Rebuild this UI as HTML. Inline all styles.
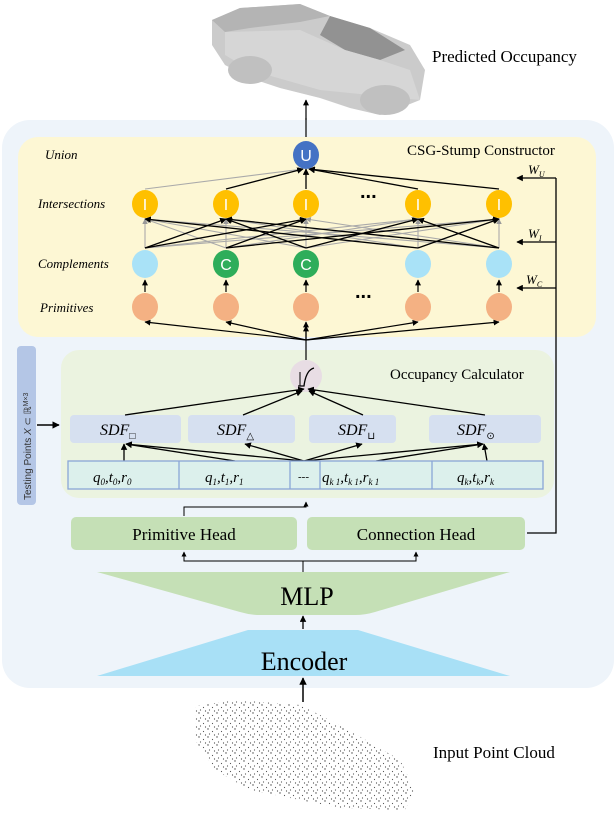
<!DOCTYPE html>
<html><head><meta charset="utf-8"><style>
html,body{margin:0;padding:0;background:#fff;}
svg{display:block;font-family:"Liberation Serif",serif;}
</style></head><body>
<svg width="616" height="814" viewBox="0 0 616 814" xmlns="http://www.w3.org/2000/svg">
<defs>
<marker id="a" viewBox="0 0 10 10" refX="9" refY="5" markerWidth="5" markerHeight="5" orient="auto"><path d="M0,0L10,5L0,10z" fill="#000"/></marker>
<marker id="g" viewBox="0 0 10 10" refX="9" refY="5" markerWidth="5" markerHeight="5" orient="auto"><path d="M0,0L10,5L0,10z" fill="#999"/></marker>
<pattern id="p1" width="9" height="8" patternUnits="userSpaceOnUse"><circle cx="1" cy="1" r="0.7" fill="#444"/><circle cx="5.5" cy="3.5" r="0.6" fill="#555"/><circle cx="2.5" cy="6" r="0.6" fill="#555"/><circle cx="7.5" cy="7" r="0.6" fill="#444"/></pattern>
</defs>
<g>
<path d="M212,20 L240,8 L300,4 L330,16 L370,28 L410,45 L425,70 L420,100 L400,108 L380,115 L350,108 L320,98 L280,88 L250,78 L225,65 L212,45 Z" fill="#cbcbcb"/>
<path d="M212,20 L240,8 L300,4 L330,16 L300,22 L250,28 L225,32 Z" fill="#b4b4b4"/>
<path d="M330,16 L370,28 L405,50 L380,60 L345,50 L320,35 Z" fill="#929292"/>
<path d="M225,32 L300,30 L345,50 L380,60 L410,70 L420,100 L320,90 L250,70 L225,55Z" fill="#d6d6d6"/>
<ellipse cx="250" cy="70" rx="22" ry="14" fill="#c0c0c0"/>
<ellipse cx="385" cy="100" rx="25" ry="15" fill="#c0c0c0"/>
</g>
<text x="432" y="62" font-size="17">Predicted Occupancy</text>
<line x1="306" y1="120" x2="306" y2="100" stroke="#000" stroke-width="1.2" marker-end="url(#a)"/>
<rect x="2" y="120" width="612" height="568" rx="28" fill="#eef4fa"/>
<line x1="306" y1="118" x2="306" y2="140" stroke="#000" stroke-width="1.2"/>
<rect x="18" y="137" width="578" height="200" rx="20" fill="#fdf7d4"/>
<text x="407" y="155" font-size="15">CSG-Stump Constructor</text>
<g font-style="italic" font-size="13">
<text x="45" y="159">Union</text>
<text x="38" y="208">Intersections</text>
<text x="38" y="268">Complements</text>
<text x="40" y="312">Primitives</text>
</g>
<g stroke="#000" stroke-width="1.2">
<line x1="306" y1="340" x2="145" y2="322" marker-end="url(#a)"/>
<line x1="306" y1="340" x2="226" y2="322" marker-end="url(#a)"/>
<line x1="306" y1="340" x2="306" y2="322" marker-end="url(#a)"/>
<line x1="306" y1="340" x2="418" y2="322" marker-end="url(#a)"/>
<line x1="306" y1="340" x2="499" y2="322" marker-end="url(#a)"/>
<line x1="145" y1="292" x2="145" y2="280" marker-end="url(#a)"/>
<line x1="226" y1="292" x2="226" y2="280" marker-end="url(#a)"/>
<line x1="306" y1="292" x2="306" y2="280" marker-end="url(#a)"/>
<line x1="418" y1="292" x2="418" y2="280" marker-end="url(#a)"/>
<line x1="499" y1="292" x2="499" y2="280" marker-end="url(#a)"/>
</g>
<g stroke="#aaa" stroke-width="1.1">
<line x1="145" y1="248" x2="145" y2="219" marker-end="url(#g)"/>
<line x1="145" y1="248" x2="418" y2="219" marker-end="url(#g)"/>
<line x1="145" y1="248" x2="499" y2="219" marker-end="url(#g)"/>
<line x1="226" y1="248" x2="145" y2="219" marker-end="url(#g)"/>
<line x1="226" y1="248" x2="226" y2="219" marker-end="url(#g)"/>
<line x1="226" y1="248" x2="418" y2="219" marker-end="url(#g)"/>
<line x1="306" y1="248" x2="145" y2="219" marker-end="url(#g)"/>
<line x1="306" y1="248" x2="306" y2="219" marker-end="url(#g)"/>
<line x1="306" y1="248" x2="499" y2="219" marker-end="url(#g)"/>
<line x1="418" y1="248" x2="226" y2="219" marker-end="url(#g)"/>
<line x1="418" y1="248" x2="418" y2="219" marker-end="url(#g)"/>
<line x1="499" y1="248" x2="145" y2="219" marker-end="url(#g)"/>
<line x1="499" y1="248" x2="306" y2="219" marker-end="url(#g)"/>
<line x1="499" y1="248" x2="499" y2="219" marker-end="url(#g)"/>
<line x1="145" y1="189" x2="303" y2="169" marker-end="url(#g)"/>
</g>
<g stroke="#000" stroke-width="1.3">
<line x1="145" y1="248" x2="226" y2="219" marker-end="url(#a)"/>
<line x1="145" y1="248" x2="306" y2="219" marker-end="url(#a)"/>
<line x1="226" y1="248" x2="306" y2="219" marker-end="url(#a)"/>
<line x1="226" y1="248" x2="499" y2="219" marker-end="url(#a)"/>
<line x1="306" y1="248" x2="418" y2="219" marker-end="url(#a)"/>
<line x1="306" y1="248" x2="226" y2="219" marker-end="url(#a)"/>
<line x1="418" y1="248" x2="499" y2="219" marker-end="url(#a)"/>
<line x1="418" y1="248" x2="145" y2="219" marker-end="url(#a)"/>
<line x1="499" y1="248" x2="226" y2="219" marker-end="url(#a)"/>
<line x1="499" y1="248" x2="418" y2="219" marker-end="url(#a)"/>
<line x1="226" y1="189" x2="303" y2="169" marker-end="url(#a)"/>
<line x1="306" y1="189" x2="306" y2="169" marker-end="url(#a)"/>
<line x1="418" y1="189" x2="309" y2="169" marker-end="url(#a)"/>
<line x1="499" y1="189" x2="309" y2="169" marker-end="url(#a)"/>
</g>
<g stroke="#000" stroke-width="1.3" fill="none">
<polyline points="556,178 556,533 527,533"/>
<line x1="556" y1="178" x2="517" y2="178" marker-end="url(#a)"/>
<line x1="556" y1="242" x2="517" y2="242" marker-end="url(#a)"/>
<line x1="556" y1="288" x2="517" y2="288" marker-end="url(#a)"/>
</g>
<g font-style="italic" font-size="13">
<text x="528" y="174">W<tspan font-size="8" dy="3">U</tspan></text>
<text x="528" y="238">W<tspan font-size="8" dy="3">I</tspan></text>
<text x="526" y="284">W<tspan font-size="8" dy="3">C</tspan></text>
</g>
<g>
<ellipse cx="306" cy="155" rx="13" ry="14" fill="#4472c4"/>
<ellipse cx="145" cy="204" rx="13" ry="14" fill="#ffc000"/>
<ellipse cx="226" cy="204" rx="13" ry="14" fill="#ffc000"/>
<ellipse cx="306" cy="204" rx="13" ry="14" fill="#ffc000"/>
<ellipse cx="418" cy="204" rx="13" ry="14" fill="#ffc000"/>
<ellipse cx="499" cy="204" rx="13" ry="14" fill="#ffc000"/>
<ellipse cx="145" cy="264" rx="13" ry="14" fill="#a9e2f7"/>
<ellipse cx="226" cy="264" rx="13" ry="14" fill="#2ead5a"/>
<ellipse cx="306" cy="264" rx="13" ry="14" fill="#2ead5a"/>
<ellipse cx="418" cy="264" rx="13" ry="14" fill="#a9e2f7"/>
<ellipse cx="499" cy="264" rx="13" ry="14" fill="#a9e2f7"/>
<ellipse cx="145" cy="307" rx="13" ry="14" fill="#f4b183"/>
<ellipse cx="226" cy="307" rx="13" ry="14" fill="#f4b183"/>
<ellipse cx="306" cy="307" rx="13" ry="14" fill="#f4b183"/>
<ellipse cx="418" cy="307" rx="13" ry="14" fill="#f4b183"/>
<ellipse cx="499" cy="307" rx="13" ry="14" fill="#f4b183"/>
</g>
<g font-size="16" fill="#fff" font-family="Liberation Sans,sans-serif" text-anchor="middle">
<text x="306" y="161">U</text>
<text x="145" y="210">I</text><text x="226" y="210">I</text><text x="306" y="210">I</text><text x="418" y="210">I</text><text x="499" y="210">I</text>
<text x="226" y="270">C</text><text x="306" y="270">C</text>
</g>
<g font-size="20" font-family="Liberation Sans,sans-serif" font-weight="bold">
<text x="360" y="198">...</text><text x="355" y="298">...</text>
</g>
<rect x="61" y="350" width="493" height="148" rx="18" fill="#ebf3e0"/>
<text x="390" y="379" font-size="15">Occupancy Calculator</text>
<circle cx="306" cy="376" r="16" fill="#e8dde4"/>
<path d="M298,386 L304,386 Q306,370 314,368" stroke="#000" stroke-width="1.3" fill="none"/>
<line x1="300" y1="372" x2="300" y2="386" stroke="#000" stroke-width="1"/>
<line x1="306" y1="360" x2="306" y2="326" stroke="#000" stroke-width="1.2" marker-end="url(#a)"/>
<g fill="#d6e0f0">
<rect x="70" y="415" width="111" height="28" rx="4"/>
<rect x="188" y="415" width="107" height="28" rx="4"/>
<rect x="309" y="415" width="87" height="28" rx="4"/>
<rect x="429" y="415" width="112" height="28" rx="4"/>
</g>
<g font-style="italic" font-size="16">
<text x="100" y="435">SDF<tspan font-size="10" dy="4" font-style="normal">□</tspan></text>
<text x="217" y="435">SDF<tspan font-size="10" dy="4" font-style="normal">△</tspan></text>
<text x="338" y="435">SDF<tspan font-size="10" dy="4" font-style="normal">⊔</tspan></text>
<text x="457" y="435">SDF<tspan font-size="10" dy="4" font-style="normal">⊙</tspan></text>
</g>
<g stroke="#000" stroke-width="1.3" fill="none">
<line x1="125" y1="415" x2="304" y2="389" marker-end="url(#a)"/>
<line x1="243" y1="415" x2="302" y2="391" marker-end="url(#a)"/>
<line x1="363" y1="415" x2="309" y2="391" marker-end="url(#a)"/>
<line x1="485" y1="415" x2="308" y2="389" marker-end="url(#a)"/>
<line x1="124" y1="461" x2="124" y2="444" marker-end="url(#a)"/>
<line x1="235" y1="461" x2="126" y2="444" marker-end="url(#a)"/>
<line x1="304" y1="461" x2="126" y2="444" marker-end="url(#a)"/>
<line x1="304" y1="461" x2="245" y2="444" marker-end="url(#a)"/>
<line x1="304" y1="461" x2="362" y2="444" marker-end="url(#a)"/>
<line x1="304" y1="461" x2="483" y2="444" marker-end="url(#a)"/>
<line x1="376" y1="461" x2="483" y2="444" marker-end="url(#a)"/>
<line x1="487" y1="461" x2="484" y2="444" marker-end="url(#a)"/>
</g>
<rect x="68" y="461" width="475" height="28" fill="#dcf0ec" stroke="#8aa6d8" stroke-width="1.3"/>
<g stroke="#8aa6d8" stroke-width="1.3"><line x1="179" y1="461" x2="179" y2="489"/><line x1="290" y1="461" x2="290" y2="489"/><line x1="320" y1="461" x2="320" y2="489"/><line x1="432" y1="461" x2="432" y2="489"/></g>
<g font-style="italic" font-size="15">
<text x="93" y="482">q<tspan font-size="9" dy="3">0</tspan><tspan dy="-3">,t</tspan><tspan font-size="9" dy="3">0</tspan><tspan dy="-3">,r</tspan><tspan font-size="9" dy="3">0</tspan></text>
<text x="205" y="482">q<tspan font-size="9" dy="3">1</tspan><tspan dy="-3">,t</tspan><tspan font-size="9" dy="3">1</tspan><tspan dy="-3">,r</tspan><tspan font-size="9" dy="3">1</tspan></text>
<text x="298" y="480" font-style="normal" font-size="11">---</text>
<text x="322" y="482">q<tspan font-size="9" dy="3">k  1</tspan><tspan dy="-3">,t</tspan><tspan font-size="9" dy="3">k  1</tspan><tspan dy="-3">,r</tspan><tspan font-size="9" dy="3">k  1</tspan></text>
<text x="457" y="482">q<tspan font-size="9" dy="3">k</tspan><tspan dy="-3">,t</tspan><tspan font-size="9" dy="3">k</tspan><tspan dy="-3">,r</tspan><tspan font-size="9" dy="3">k</tspan></text>
</g>
<rect x="17" y="346" width="19" height="159" rx="4" fill="#b4c6e6"/>
<text transform="translate(31,500) rotate(-90)" font-family="Liberation Sans,sans-serif" font-size="10" fill="#333">Testing Points <tspan font-style="italic">X</tspan> ⊂ ℝ<tspan font-size="7" dy="-3">M×3</tspan></text>
<line x1="37" y1="425" x2="59" y2="425" stroke="#000" stroke-width="1.5" marker-end="url(#a)"/>
<rect x="71" y="517" width="226" height="33" rx="5" fill="#c5e0b6"/>
<rect x="307" y="517" width="218" height="33" rx="5" fill="#c5e0b6"/>
<text x="184" y="540" font-size="17" text-anchor="middle">Primitive Head</text>
<text x="416" y="540" font-size="17" text-anchor="middle">Connection Head</text>
<g stroke="#000" stroke-width="1" fill="none">
<polyline points="184,516 184,507 306,507 306,502" marker-end="url(#a)"/>
<polyline points="303,572 303,561 184,561 184,552" marker-end="url(#a)"/>
<polyline points="303,561 416,561 416,552" marker-end="url(#a)"/>
<line x1="303" y1="629" x2="303" y2="616" stroke-width="1.3" marker-end="url(#a)"/>
<line x1="303" y1="702" x2="303" y2="678" stroke-width="1.5" marker-end="url(#a)"/>
</g>
<path d="M97,572 L510,572 L375,612 Q365,615 355,615 L260,615 Q250,615 240,612 Z" fill="#c5e0b6"/>
<text x="307" y="605" font-size="26" text-anchor="middle">MLP</text>
<path d="M248,630 L358,630 L510,676 L97,676 Z" fill="#a8e0f6"/>
<text x="304" y="670" font-size="26" text-anchor="middle">Encoder</text>
<path d="M195,706 L235,700 L300,705 L340,725 L400,760 L415,790 L405,810 L340,808 L250,790 L215,770 L195,740 Z" fill="url(#p1)"/>
<text x="433" y="758" font-size="17">Input Point Cloud</text>
</svg>
</body></html>
